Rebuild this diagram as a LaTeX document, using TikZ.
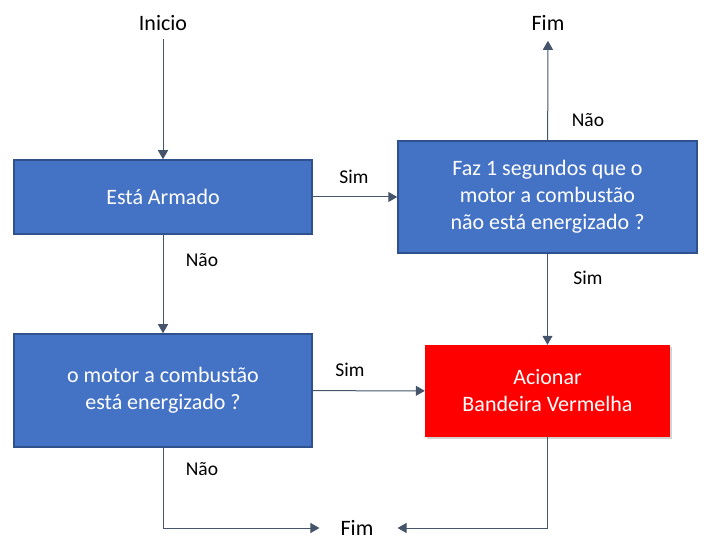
\documentclass[tikz,border=0pt]{standalone}
\usepackage{fontspec}
\setmainfont{Carlito}
\usetikzlibrary{arrows.meta,shadows}
\definecolor{boxblue}{HTML}{4472C4}
\definecolor{boxedge}{HTML}{2F528F}
\definecolor{flowgray}{HTML}{44546A}
\definecolor{flagred}{HTML}{FF0000}
\begin{document}
\begin{tikzpicture}[x=1pt,y=-1pt,
    blk/.style={rectangle, draw=boxedge, line width=1.5pt, fill=boxblue,
      text=white, align=center, inner sep=0pt,
      font=\fontsize{22}{27}\selectfont},
    alarm/.style={rectangle, fill=flagred, text=white, align=center,
      inner sep=0pt, drop shadow={shadow xshift=1.5pt, shadow yshift=-2pt, opacity=.35},
      font=\fontsize{22}{27}\selectfont},
    term/.style={font=\fontsize{22}{27}\selectfont, inner sep=2pt},
    lbl/.style={font=\fontsize{19.5}{23}\selectfont, inner sep=0pt},
    flow/.style={draw=flowgray, line width=1pt, -{Triangle[length=9pt,width=10pt]}}]
  \useasboundingbox (0,0) rectangle (716,556);
  \path
    (163,23) node[term] (inicio){Inicio}
    (548,23) node[term] (fimtop){Fim}
    (357,528) node[term] (fimbot){Fim}
    (163,197) node[blk, minimum width=298pt, minimum height=74pt] (armado){Está Armado}
    (163,390.5) node[blk, minimum width=298pt, minimum height=113pt] (motor){o motor a combustão\\está energizado ?}
    (547.5,197) node[blk, minimum width=299pt, minimum height=112pt] (tempo){Faz 1 segundos que o\\motor a combustão\\não está energizado ?}
    (547.5,391) node[alarm, minimum width=245pt, minimum height=92pt] (bandeira){Acionar\\Bandeira Vermelha};
  \begin{scope}[flow]
    \draw[shorten <=6pt] (inicio) to (armado);
    \draw (armado) to (motor);
    \draw (armado) to (tempo);
    \draw[shorten >=8pt] (tempo) to (fimtop);
    \draw (tempo) to (bandeira);
    \draw (motor) to (bandeira);
    \draw[shorten >=19pt] (motor.south) |- (fimbot.west);
    \draw[shorten >=22pt] (bandeira.south) |- (fimbot.east);
  \end{scope}
  \path
    (354,177) node[lbl] (sim1){Sim}
    (202,260) node[lbl] (nao1){Não}
    (588,120) node[lbl] (nao2){Não}
    (588,278) node[lbl] (sim2){Sim}
    (350,370) node[lbl] (sim3){Sim}
    (202,469) node[lbl] (nao3){Não};
\end{tikzpicture}
\end{document}
